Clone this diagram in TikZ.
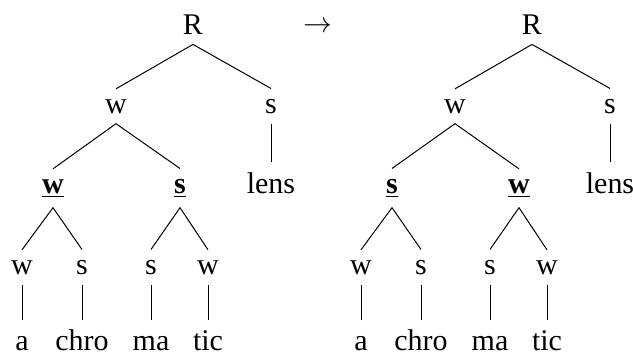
\documentclass[tikz,border=0pt]{standalone}
\usepackage{fontspec}
\setmainfont{Liberation Serif}
\newcommand\mtree[4]{%
  \begin{scope}[xshift=#2]
  \node[lab] (#1R) at (193,34) {R};
  \node[lab] (#1w) at (116,113) {w};
  \node[lab] (#1s) at (271,113) {s};
  \node[lab] (#1A) at (53,193) {\underline{\textbf{#3}}};
  \node[lab] (#1B) at (180,193) {\underline{\textbf{#4}}};
  \node[lab] (#1lens) at (271,193) {lens};
  \node[lab] (#1p) at (22,274) {w};
  \node[lab] (#1q) at (82,274) {s};
  \node[lab] (#1r) at (151,274) {s};
  \node[lab] (#1t) at (208,274) {w};
  \node[leaf] (#1a) at (22,350.5) {a};
  \node[leaf] (#1chro) at (82,350.5) {chro};
  \node[leaf] (#1ma) at (151,350.5) {ma};
  \node[leaf] (#1tic) at (208,350.5) {tic};
  \draw[edge] (#1w.north) -- (#1R.south) -- (#1s.north);
  \draw[edge] (#1s.south) -- (#1lens.north);
  \draw[edge] (#1A.north) -- (#1w.south) -- (#1B.north);
  \draw[edge] (#1p.north) -- (#1A.south) -- (#1q.north);
  \draw[edge] (#1r.north) -- (#1B.south) -- (#1t.north);
  \draw[edge,shorten >=5pt] (#1p.south) -- (#1a.north);
  \draw[edge,shorten >=5pt] (#1q.south) -- (#1chro.north);
  \draw[edge,shorten >=5pt] (#1r.south) -- (#1ma.north);
  \draw[edge,shorten >=5pt] (#1t.south) -- (#1tic.north);
  \end{scope}}
\begin{document}
\begin{tikzpicture}[x=0.5pt,y=-0.5pt,
  lab/.style={anchor=base, inner sep=5pt, font=\fontsize{15}{18}\selectfont},
  leaf/.style={lab, inner sep=0pt, text height=10.25pt},
  edge/.style={line width=0.5pt}]
\useasboundingbox (0,0) rectangle (633,354);
\mtree{L}{0pt}{w}{s}
\mtree{M}{169.5pt}{s}{w}
\node[font=\fontsize{15}{18}\selectfont] (arrow) at (318,27) {$\rightarrow$};
\end{tikzpicture}
\end{document}
